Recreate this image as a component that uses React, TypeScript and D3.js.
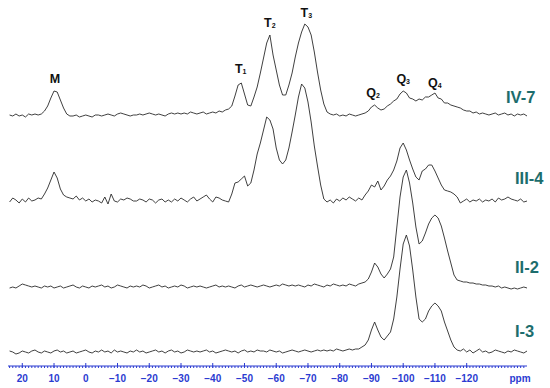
import * as d3 from "d3";

// chemical shift grid (ppm), one value per ppm from 24 down to -139
const PPM_START = 24;
const PPM_STEP = -1;

// intensities (a.u.), rows of 10 ppm: 24..15, 14..5, 4..-5, ...
const spec_IV7 = [
  0, -1, 1, -1, 0, -2, 1, 0, 1, 0,
  1, 4, 9, 17, 24, 23, 15, 7, 1, -1,
  -1, 0, -2, -1, 0, -1, -2, 0, 0, -1,
  0, 1, 0, -1, 1, 2, 1, 0, -1, 0,
  0, 1, 0, 1, 2, 1, 0, 1, 0, -1,
  1, 2, 1, 2, 1, 2, 1, 3, 2, 1,
  2, 3, 1, 2, 3, 2, 4, 3, 5, 6,
  9, 19, 30, 32, 21, 10, 9, 18, 28, 42,
  57, 72, 80, 60, 45, 30, 20, 20, 30, 42,
  58, 72, 83, 91, 88, 80, 63, 43, 25, 11,
  3, 1, 0, 1, -1, 0, -1, 1, 0, -1,
  0, 1, 2, 4, 8, 10, 7, 5, 6, 9,
  11, 14, 16, 21, 24, 22, 17, 16, 14, 16,
  15, 18, 18, 20, 22, 17, 16, 12, 12, 10,
  9, 8, 7, 5, 4, 4, 2, 3, 1, 2,
  1, 0, 1, 2, 0, 1, 2, 0, 1, -1,
  1, 0, 1, -1,
];

const spec_III4 = [
  -2, 2, 0, -3, 1, -2, 2, -1, 0, 2,
  1, 6, 12, 20, 28, 22, 11, 5, 3, 2,
  1, 4, 0, 2, -1, 1, -2, 0, -1, -3,
  3, -4, 6, -1, -2, 1, 0, 2, 1, -1,
  -1, 1, 0, -2, 1, 0, -3, 0, 1, -2,
  0, -2, 1, -1, 2, 0, -2, 1, 3, -1,
  1, 3, 5, 1, -2, 3, 2, 0, -1, -2,
  6, 17, 18, 21, 24, 14, 17, 30, 46, 57,
  70, 83, 80, 71, 52, 40, 36, 40, 52, 68,
  85, 103, 116, 112, 98, 78, 54, 34, 15, 1,
  -2, 0, -3, 1, -1, 2, 0, 3, 1, -1,
  2, 0, 5, 9, 15, 13, 19, 10, 14, 20,
  24, 30, 39, 52, 57, 50, 40, 31, 23, 20,
  29, 31, 35, 35, 29, 22, 15, 10, 9, 8,
  6, 3, -3, -1, 1, -2, 0, -1, 1, -2,
  0, -1, 1, -2, 2, 0, 1, 3, 1, 0,
  -1, 1, -2, -1,
];

const spec_II2 = [
  -1, 0, -1, 1, 3, 2, 1, 0, 1, 0,
  -1, 1, 0, 1, -1, 0, 1, -1, 0, 1,
  2, 0, -1, 1, 0, -1, 1, 0, 1, 2,
  0, 1, -1, 0, 2, 1, 0, -1, 1, 0,
  1, 0, 2, 1, -1, 0, 1, 2, 0, 1,
  -1, 0, 1, 0, 2, 1, -1, 0, 1, 0,
  1, 0, -1, 0, 1, 2, 0, 1, 0, 1,
  0, -1, 1, 2, 0, 1, 2, 1, 0, 1,
  2, 1, 0, 1, 2, 1, 3, 2, 1, 2,
  1, 2, 1, 0, 2, 1, 3, 2, 1, 0,
  2, 1, 3, 2, 1, 2, 1, 3, 2, 1,
  3, 4, 5, 8, 15, 24, 20, 13, 9, 13,
  18, 30, 60, 90, 110, 117, 104, 84, 60, 43,
  46, 54, 63, 69, 72, 69, 61, 49, 36, 24,
  12, 7, 6, 5, 5, 4, 4, 3, 3, 2,
  2, 1, 1, 0, 1, -1, 0, -1, -2, -1,
  -2, -1, 0, -1,
];

const spec_I3 = [
  1, 0, -2, -1, 1, 0, -1, 1, 2, 0,
  -1, 1, 0, -1, 1, 2, 0, 1, -1, 0,
  1, -1, 0, 1, 2, 0, -1, 1, 0, 2,
  0, 1, -1, 2, 0, 1, 0, -1, 1, 0,
  2, 0, 1, -1, 0, 1, 2, 0, 1, -1,
  1, 2, 0, 1, -1, 0, 2, 1, 0, 1,
  0, 1, 2, 0, 1, -1, 0, 1, 2, 1,
  0, 1, -1, 1, 2, 0, 1, 0, 2, 1,
  1, 0, 2, 1, 0, 1, -1, 0, 1, 2,
  1, 0, 1, 2, 1, 0, 1, 2, 1, 2,
  1, 2, 1, 3, 2, 1, 2, 3, 2, 3,
  3, 5, 7, 12, 22, 30, 22, 15, 12, 16,
  20, 33, 55, 83, 108, 117, 106, 82, 55, 33,
  30, 33, 41, 46, 49, 46, 41, 30, 21, 12,
  5, 2, 1, 3, 0, 2, -1, 1, 3, 0,
  1, -1, 0, 2, 1, 0, -1, 1, 0, 2,
  1, 0, -1, 1,
];

const sampleNames = ["IV-7", "III-4", "II-2", "I-3"];
const spectra = [spec_IV7, spec_III4, spec_II2, spec_I3];

// peak assignments on the top trace
const peakNames = ["M", "T", "T", "T", "Q", "Q", "Q"];
const peakSubs = ["", "1", "2", "3", "2", "3", "4"];
const peakPpm = [9.7, -48.8, -58, -69.5, -90.5, -100, -110];

const axisLabels = [20, 10, 0, -10, -20, -30, -40, -50, -60, -70, -80, -90, -100, -110, -120];

const W = 550;
const H = 388;
const baselines = [115, 200, 287, 352];
const labelX = [506, 515, 515, 515];
const labelY = [103, 184, 273, 337];
const peakLabelY = [83, 73, 27, 17, 97, 83, 87];

const AXIS_BLUE = "#2b3bd1";
const TEAL = "#1d6d6d";

export default function App() {
  const x = d3.scaleLinear().domain([24.5, -139]).range([8, 527]);
  const y = d3.scaleLinear().domain([0, 120]).range([0, -120]);

  const line = (base: number) =>
    d3
      .line<number>()
      .x((_, i) => x(PPM_START + i * PPM_STEP))
      .y((d) => base + y(d));

  const axisY = 366;
  const minor = d3.range(24, -139, -1);

  return (
    <svg
      width={W}
      height={H}
      style={{ position: "absolute", left: 0, top: 0, background: "#fff" }}
      fontFamily="'Liberation Sans', Arial, sans-serif"
    >
      {spectra.map((s, k) => (
        <path
          key={k}
          d={line(baselines[k])(s) ?? ""}
          fill="none"
          stroke="#2a2a2a"
          strokeWidth={0.9}
          strokeLinejoin="round"
        />
      ))}

      {sampleNames.map((n, k) => (
        <text key={n} x={labelX[k]} y={labelY[k]} fontSize={16.5} fontWeight="bold" fill={TEAL}>
          {n}
        </text>
      ))}

      {peakNames.map((n, k) => (
        <text
          key={k}
          x={x(peakPpm[k])}
          y={peakLabelY[k]}
          fontSize={12.5}
          fontWeight="bold"
          fill="#111"
          textAnchor="middle"
        >
          {n}
          {peakSubs[k] && (
            <tspan fontSize={7} dy={1}>
              {peakSubs[k]}
            </tspan>
          )}
        </text>
      ))}

      <g stroke={AXIS_BLUE} strokeWidth={1}>
        <line x1={8} x2={527} y1={axisY} y2={axisY} />
        {minor.map((p) => (
          <line key={p} x1={x(p)} x2={x(p)} y1={axisY} y2={axisY + 2} />
        ))}
        {axisLabels.map((p) => (
          <line key={p} x1={x(p)} x2={x(p)} y1={axisY - 3} y2={axisY + 2} />
        ))}
      </g>
      {axisLabels.map((p) => (
        <text
          key={p}
          x={x(p)}
          y={382}
          fontSize={10}
          fontWeight="bold"
          fill={AXIS_BLUE}
          textAnchor="middle"
        >
          {p < 0 ? "\u2212" + Math.abs(p) : p}
        </text>
      ))}
      <text x={520} y={382} fontSize={10} fontWeight="bold" fill={AXIS_BLUE} textAnchor="middle">
        ppm
      </text>
    </svg>
  );
}
